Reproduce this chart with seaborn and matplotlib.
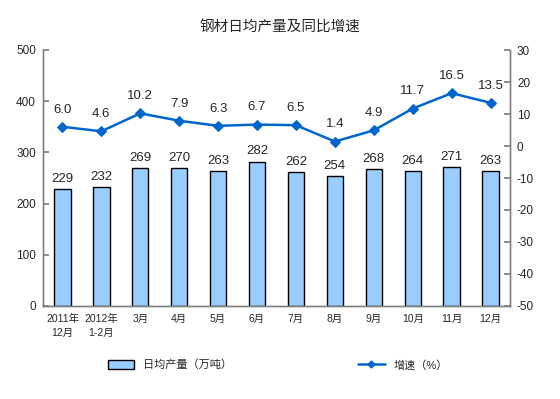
import matplotlib
matplotlib.use("Agg")
import matplotlib.pyplot as plt
import seaborn as sns
import numpy as np
import pandas as pd
from matplotlib.patches import Patch
from matplotlib.lines import Line2D

categories = ["2011年\n12月", "2012年\n1-2月", "3月", "4月", "5月", "6月",
              "7月", "8月", "9月", "10月", "11月", "12月"]
output = [229, 232, 269, 270, 263, 282, 262, 254, 268, 264, 271, 263]
growth = [6.0, 4.6, 10.2, 7.9, 6.3, 6.7, 6.5, 1.4, 4.9, 11.7, 16.5, 13.5]
title = "钢材日均产量及同比增速"
bar_label = "日均产量（万吨）"
line_label = "增速（%）"

sns.set_theme(style="white")
plt.rcParams['font.family'] = ['Liberation Sans', 'Noto Sans CJK SC', 'DejaVu Sans']
plt.rcParams['axes.unicode_minus'] = False

df = pd.DataFrame({"cat": categories, "pos": np.arange(len(categories)),
                   "output": output, "growth": growth})

fig = plt.figure(figsize=(5.6, 3.99), dpi=100)
ax = fig.add_axes([43/560, 1-306/399, (510-43)/560, (306-50)/399])
ax2 = ax.twinx()

sns.barplot(data=df, x="pos", y="output", ax=ax, color="#99CCFF",
            edgecolor="black", linewidth=1.0, width=0.42, saturation=1)
sns.lineplot(data=df, x="pos", y="growth", ax=ax2, color="#0066CC",
             linewidth=1.8, marker="D", markersize=5, markeredgecolor="#0066CC",
             sort=False)

ax.set_ylim(0, 500)
ax.set_yticks(np.arange(0, 501, 100))
ax2.set_ylim(-50, 30)
ax2.set_yticks(np.arange(-50, 31, 10))
ax.set_xlim(-0.5, len(categories) - 0.5)
ax.set_xticks(np.arange(len(categories)))
ax.set_xticklabels(categories, fontsize=7.5, linespacing=1.5, va="top")
ax.set_xticks(np.arange(len(categories) + 1) - 0.5, minor=True)
ax.tick_params(axis="x", which="major", length=0, pad=6)
ax.tick_params(axis="x", which="minor", length=3, direction="in", color="#808080")
ax.tick_params(axis="y", direction="in", length=4, labelsize=8.5, color="#808080", pad=5)
ax2.tick_params(axis="y", direction="in", length=4, labelsize=8.5, color="#808080", pad=5)
ax.set_xlabel("")
ax.set_ylabel("")
ax2.set_ylabel("")

for a in (ax, ax2):
    a.spines["top"].set_visible(False)
    for s in ("left", "right", "bottom"):
        a.spines[s].set_color("#808080")
        a.spines[s].set_linewidth(1.0)

for i, v in enumerate(output):
    ax.annotate(f"{v}", (i, v), xytext=(0, 3), textcoords="offset points",
                ha="center", va="bottom", fontsize=9.5)
for i, v in enumerate(growth):
    ax2.annotate(f"{v:.1f}", (i, v), xytext=(0, 8), textcoords="offset points",
                 ha="center", va="bottom", fontsize=9.5)

fig.text(0.5, 1-27/399, title, ha="center", va="center", fontsize=10.5)

handles = [Patch(facecolor="#99CCFF", edgecolor="black", linewidth=1.0),
           Line2D([0], [0], color="#0066CC", linewidth=1.8, marker="D", markersize=3.5)]
fig.legend(handles[:1], [bar_label], loc="center", bbox_to_anchor=(170/560, 1-365/399),
           frameon=False, fontsize=8, handlelength=2.4, handleheight=0.9)
fig.legend(handles[1:], [line_label], loc="center", bbox_to_anchor=(403/560, 1-365/399),
           frameon=False, fontsize=8, handlelength=2.4)

fig.savefig("out.png", dpi=100)
